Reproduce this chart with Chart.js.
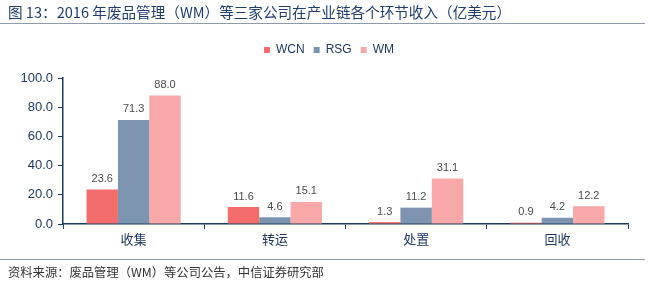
<!DOCTYPE html>
<html>
<head>
<meta charset="utf-8">
<script src="https://cdn.jsdelivr.net/npm/chart.js@4.4.0/dist/chart.umd.min.js"></script>
<style>
  body { margin: 0; background: #fff; }
  canvas { display: block; }
</style>
</head>
<body>
<canvas id="revenueChart" width="658" height="292"></canvas>
<script>
// revenue by value-chain stage, 100M USD
const categories = ["收集", "转运", "处置", "回收"];
const companies = ["WCN", "RSG", "WM"];
const wcnValues = [23.6, 11.6, 1.3, 0.9];
const rsgValues = [71.3, 4.6, 11.2, 4.2];
const wmValues = [88.0, 15.1, 31.1, 12.2];
const yTicks = [0, 20, 40, 60, 80, 100];

const titleText = "图 13：2016 年废品管理（WM）等三家公司在产业链各个环节收入（亿美元）";
const sourceText = "资料来源：废品管理（WM）等公司公告，中信证券研究部";

const barColors = ["#f36d6d", "#7d94b1", "#f9a8a9"];
const navy = "#1f3a60";
const fontFamily = "'Liberation Sans', 'Noto Sans CJK SC', sans-serif";

// numbers above each bar
const valueLabels = {
	id: "valueLabels",
	afterDatasetsDraw(chart) {
		const ctx = chart.ctx;
		ctx.save();
		ctx.font = "11px " + fontFamily;
		ctx.fillStyle = "#4a4a4a";
		ctx.textAlign = "center";
		ctx.textBaseline = "bottom";
		chart.data.datasets.forEach((ds, i) => {
			chart.getDatasetMeta(i).data.forEach((bar, j) => {
				ctx.fillText(ds.data[j].toFixed(1), bar.x, bar.y - 5);
			});
		});
		ctx.restore();
	}
};

// heading, source line and the two rules
const frame = {
	id: "frame",
	beforeInit(chart) {
		const fit = chart.legend.fit;
		chart.legend.fit = function () {
			fit.call(this);
			this.height = 43;
		};
	},
	afterLayout(chart) {
		// centre the legend on the full canvas, not the padded box
		chart.legend.left += 15;
		chart.legend.right += 15;
	},
	afterDraw(chart) {
		const ctx = chart.ctx;
		ctx.save();
		ctx.font = "14.6px 'Noto Sans CJK SC', sans-serif";
		ctx.fillStyle = "#1f3d6d";
		ctx.textBaseline = "middle";
		ctx.fillText(titleText, 8, 12);
		ctx.font = "12.3px 'Noto Sans CJK SC', serif";
		ctx.fillStyle = "#333";
		ctx.fillText(sourceText, 8, 272);
		ctx.strokeStyle = "#8d9aab";
		ctx.lineWidth = 1;
		ctx.beginPath();
		ctx.moveTo(0, 23.5);
		ctx.lineTo(645, 23.5);
		ctx.moveTo(0, 259.5);
		ctx.lineTo(645, 259.5);
		ctx.stroke();
		ctx.restore();
	}
};

const chart = new Chart(document.getElementById("revenueChart"), {
	type: "bar",
	data: {
		labels: categories,
		datasets: [
			{ label: companies[0], data: wcnValues, backgroundColor: barColors[0] },
			{ label: companies[1], data: rsgValues, backgroundColor: barColors[1] },
			{ label: companies[2], data: wmValues, backgroundColor: barColors[2] }
		]
	},
	options: {
		responsive: false,
		animation: false,
		categoryPercentage: 0.667,
		barPercentage: 1.0,
		layout: { padding: { top: 35, left: 0, right: 30, bottom: 40 } },
		plugins: {
			tooltip: { enabled: false },
			legend: {
				position: "top",
				labels: {
					boxWidth: 6,
					boxHeight: 6,
					padding: 9,
					color: navy,
					font: { family: fontFamily, size: 12 }
				}
			}
		},
		scales: {
			x: {
				afterFit(scale) { scale.height = 28; },
				grid: { offset: true, drawOnChartArea: false, drawTicks: true, tickLength: 5, color: navy },
				border: { display: true, color: navy, width: 1.5 },
				ticks: { color: navy, padding: 4, font: { family: fontFamily, size: 13 } }
			},
			y: {
				min: 0,
				max: 100,
				afterFit(scale) { scale.width = 63; },
				afterBuildTicks(scale) { scale.ticks = yTicks.map(v => ({ value: v })); },
				grid: { drawOnChartArea: false, drawTicks: true, tickLength: 5, color: navy },
				border: { display: true, color: navy, width: 1.5 },
				ticks: {
					color: navy,
					padding: 5,
					font: { family: fontFamily, size: 13 },
					callback: v => v.toFixed(1)
				}
			}
		}
	},
	plugins: [valueLabels, frame]
});
</script>
</body>
</html>
